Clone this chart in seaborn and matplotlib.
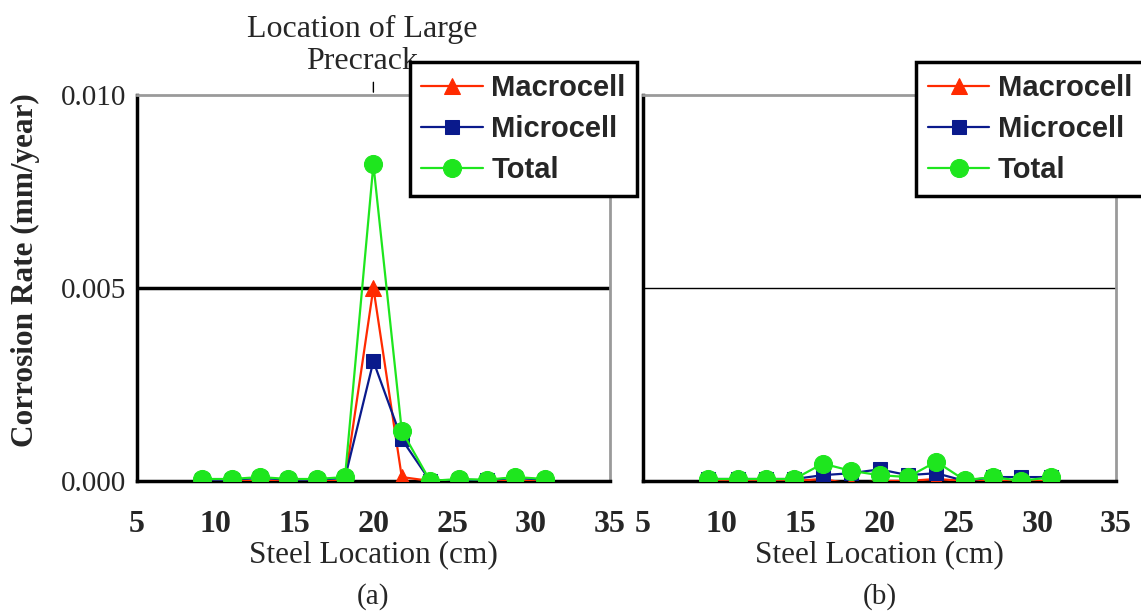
import pandas as pd
import numpy as np
import matplotlib
matplotlib.use("Agg")
import matplotlib.pyplot as plt
import seaborn as sns

# Positions des barres (cm)
location = [9.1, 11.0, 12.8, 14.6, 16.4, 18.2, 20.0, 21.8, 23.6, 25.4, 27.2, 29.0, 30.9]

# (a) éprouvette avec grande préfissure
macro_a = [0.0, 0.0, 0.0, 0.0, 0.0, 0.0, 0.0050, 0.0001, 0.0, 0.0, 0.0, 0.0, 0.0]
micro_a = [0.00003, 0.00003, 0.00008, 0.00003, 0.00003, 0.00008, 0.0031, 0.00108, 0.0, 0.00003, 0.00002, 0.00008, 0.00003]
total_a = [0.00005, 0.00005, 0.0001, 0.00005, 0.00005, 0.0001, 0.0082, 0.0013, 0.0, 0.00005, 0.00003, 0.0001, 0.00005]

# (b) éprouvette sans grande préfissure
macro_b = [0.0, 0.0, 0.0, 0.0, 0.00005, -0.00008, 0.0, 0.0, 0.00005, 0.0, 0.0, 0.0, 0.0]
micro_b = [0.00005, 0.00005, 0.00005, 0.00005, 0.00015, 0.0002, 0.0003, 0.00015, 0.0002, 0.0, 0.0001, 0.0001, 0.0001]
total_b = [0.00005, 0.00005, 0.00005, 0.00005, 0.00045, 0.00026, 0.00015, 0.0001, 0.0005, 0.00002, 0.0001, 0.0, 0.0001]

series = ['Macrocell', 'Microcell', 'Total']
colors = {'Macrocell': '#ff2a00', 'Microcell': '#0a1a8c', 'Total': '#1ee61e'}
markers = {'Macrocell': '^', 'Microcell': 's', 'Total': 'o'}
msizes = {'Macrocell': 11, 'Microcell': 10, 'Total': 13}


def long_df(macro, micro, total):
    frames = []
    for name, vals in zip(series, [macro, micro, total]):
        frames.append(pd.DataFrame({'loc': location, 'rate': vals, 'serie': name}))
    return pd.concat(frames, ignore_index=True)


sns.set_style('white')
serif = ['Liberation Serif', 'DejaVu Serif']
fig = plt.figure(figsize=(11.41, 6.15), dpi=100)
ax_a = fig.add_axes([0.120, 0.218, 0.4145, 0.6276])
ax_b = fig.add_axes([0.5636, 0.218, 0.4145, 0.6276])

panels = [(ax_a, long_df(macro_a, micro_a, total_a), '(a)', 0.359, 2.5),
          (ax_b, long_df(macro_b, micro_b, total_b), '(b)', 0.803, 1.0)]

for ax, df, tag, leg_x, grid_lw in panels:
    ax.axhline(0.005, color='black', lw=grid_lw, zorder=1)
    for name in series:
        sub = df[df['serie'] == name]
        sns.lineplot(data=sub, x='loc', y='rate', ax=ax, color=colors[name],
                     marker=markers[name], markersize=msizes[name],
                     markeredgecolor=colors[name], lw=1.6, label=name, zorder=3)
    ax.set_xlim(5, 35)
    ax.set_ylim(0, 0.010)
    ax.set_xticks([5, 10, 15, 20, 25, 30, 35])
    ax.set_xticks([10, 20, 30], minor=True)
    ax.tick_params(axis='x', which='major', length=0, pad=21)
    ax.tick_params(axis='x', which='minor', length=7, width=2, direction='in', color='black')
    for lab in ax.get_xticklabels():
        lab.set_fontfamily(serif)
        lab.set_fontweight('bold')
        lab.set_fontsize(23)
    ax.set_xlabel('Steel Location (cm)', family=serif, fontsize=22.5, labelpad=1)
    ax.text(0.5, -0.30, tag, transform=ax.transAxes, ha='center', va='center',
            family=serif, fontsize=21)
    for side in ['left', 'bottom']:
        ax.spines[side].set_color('black')
        ax.spines[side].set_linewidth(2.5)
    for side in ['top', 'right']:
        ax.spines[side].set_color('#9a9a9a')
        ax.spines[side].set_linewidth(2)
    leg = ax.legend(loc='upper left', bbox_to_anchor=(leg_x, 0.899),
                    bbox_transform=fig.transFigure, borderaxespad=0,
                    frameon=True, fancybox=False,
                    edgecolor='black', framealpha=1, borderpad=0.4,
                    labelspacing=0.45, handlelength=2.1, handletextpad=0.3,
                    prop={'family': ['Liberation Sans', 'DejaVu Sans'],
                          'weight': 'bold', 'size': 21})
    leg.get_frame().set_linewidth(2.5)
    leg.set_zorder(10)

ax_a.set_yticks([0.0, 0.005, 0.010])
ax_a.set_yticklabels(['0.000', '0.005', '0.010'], family=serif, fontsize=21)
ax_a.tick_params(axis='y', length=5, width=2, direction='out', pad=3)
ax_a.set_ylabel('Corrosion Rate (mm/year)', family=serif, fontsize=22.5,
                fontweight='bold')
ax_a.yaxis.set_label_coords(-0.205, 0.545)
ax_b.set_yticks([0.0, 0.005, 0.010])
ax_b.set_yticklabels([])
ax_b.tick_params(axis='y', length=0)
ax_b.set_ylabel('')

# annotation de la préfissure
ax_a.annotate('', xy=(20, 0.010), xytext=(20, 0.0104), annotation_clip=False,
              arrowprops=dict(arrowstyle='-', color='black', lw=1))
ax_a.text(19.3, 0.0105, 'Location of Large\nPrecrack', ha='center', va='bottom',
          family=serif, fontsize=23, linespacing=1.1)

fig.savefig('out.png', dpi=100)
